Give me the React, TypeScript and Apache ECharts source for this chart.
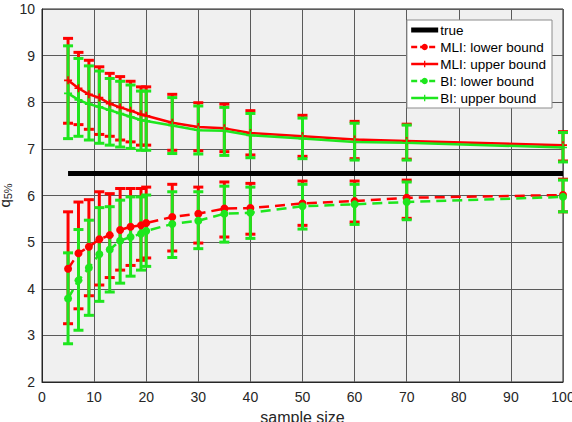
import React, { useEffect, useRef } from "react";
import * as echarts from "echarts";

const sampleSizes = [5, 7, 9, 11, 13, 15, 17, 19, 20, 25, 30, 35, 40, 50, 60, 70, 100];
const trueValue = 6.47;

const mliLower = [4.43, 4.76, 4.9, 5.06, 5.15, 5.26, 5.33, 5.36, 5.41, 5.54, 5.61, 5.72, 5.73, 5.83, 5.88, 5.95, 6.01];
const mliLowerLo = [3.25, 3.57, 3.85, 4.08, 4.24, 4.4, 4.5, 4.61, 4.66, 4.81, 4.98, 5.11, 5.17, 5.36, 5.43, 5.51, 5.65];
const mliLowerHi = [5.65, 5.86, 5.91, 6.08, 6.04, 6.15, 6.15, 6.15, 6.18, 6.24, 6.18, 6.29, 6.26, 6.31, 6.31, 6.33, 6.35];

const mliUpper = [8.47, 8.3, 8.17, 8.1, 7.97, 7.89, 7.82, 7.74, 7.71, 7.56, 7.47, 7.44, 7.34, 7.27, 7.2, 7.17, 7.08];
const mliUpperLo = [7.55, 7.52, 7.42, 7.31, 7.27, 7.19, 7.15, 7.08, 7.08, 6.97, 6.96, 6.94, 6.87, 6.84, 6.79, 6.78, 6.74];
const mliUpperHi = [9.37, 9.07, 8.9, 8.76, 8.62, 8.55, 8.45, 8.33, 8.33, 8.17, 7.99, 7.96, 7.82, 7.72, 7.59, 7.53, 7.37];

const biLower = [3.79, 4.18, 4.45, 4.74, 4.84, 5.03, 5.11, 5.18, 5.24, 5.39, 5.46, 5.61, 5.63, 5.77, 5.81, 5.86, 5.97];
const biLowerLo = [2.82, 3.11, 3.43, 3.73, 3.93, 4.12, 4.27, 4.4, 4.48, 4.67, 4.86, 5.0, 5.08, 5.28, 5.38, 5.48, 5.65];
const biLowerHi = [4.77, 5.27, 5.47, 5.74, 5.76, 5.9, 5.97, 5.97, 6.01, 6.08, 6.08, 6.2, 6.18, 6.24, 6.24, 6.29, 6.33];

const biUpper = [8.19, 8.05, 7.96, 7.9, 7.83, 7.76, 7.69, 7.62, 7.6, 7.5, 7.4, 7.39, 7.29, 7.22, 7.15, 7.13, 7.03];
const biUpperLo = [7.22, 7.27, 7.19, 7.12, 7.08, 7.04, 7.01, 6.97, 6.97, 6.9, 6.89, 6.86, 6.81, 6.79, 6.76, 6.76, 6.72];
const biUpperHi = [9.21, 8.94, 8.78, 8.67, 8.51, 8.45, 8.37, 8.24, 8.24, 8.1, 7.92, 7.89, 7.76, 7.66, 7.55, 7.51, 7.35];

const RED = "#ff0000";
const GREEN = "#1ee61e";
const FONT = "Liberation Sans";
const PLUS = "path://M4,0 L6,0 L6,4 L10,4 L10,6 L6,6 L6,10 L4,10 L4,6 L0,6 L0,4 L4,4 Z";
const BAR_ICON = "path://M0,0 M27,8 M0,1.5 L27,1.5 L27,6.5 L0,6.5 Z";
const DASH: number[] = [10, 6];

function pairs(vals: number[]) {
  return sampleSizes.map((x, i) => [x, vals[i]]);
}

function errorBars(name: string, lo: number[], hi: number[], color: string) {
  return {
    type: "custom",
    name: name + " bars",
    data: sampleSizes.map((x, i) => [x, lo[i], hi[i]]),
    renderItem: (params: any, api: any) => {
      const x = api.value(0);
      const a = api.coord([x, api.value(1)]);
      const b = api.coord([x, api.value(2)]);
      const hw = 5;
      const style = { stroke: color, lineWidth: 3 };
      return {
        type: "group",
        children: [
          { type: "line", shape: { x1: a[0], y1: a[1], x2: b[0], y2: b[1] }, style },
          { type: "line", shape: { x1: a[0] - hw, y1: a[1], x2: a[0] + hw, y2: a[1] }, style },
          { type: "line", shape: { x1: b[0] - hw, y1: b[1], x2: b[0] + hw, y2: b[1] }, style },
        ],
      };
    },
    encode: { x: 0, y: [1, 2] },
    silent: true,
  };
}

function lineSeries(name: string, vals: number[], color: string, dashed: boolean, plus: boolean) {
  return {
    type: "line",
    name,
    data: pairs(vals),
    symbol: plus ? PLUS : "circle",
    symbolSize: 8,
    showSymbol: true,
    itemStyle: { color, borderWidth: 0 },
    lineStyle: { color, width: 2.5, type: dashed ? DASH : "solid" },
    silent: true,
  };
}

export default function App() {
  const ref = useRef<HTMLDivElement>(null);
  useEffect(() => {
    if (!ref.current) return;
    const chart = echarts.init(ref.current, undefined, { renderer: "svg" });
    chart.setOption({
      animation: false,
      backgroundColor: "#ffffff",
      textStyle: { fontFamily: FONT },
      grid: {
        left: 42,
        right: 9,
        top: 9,
        bottom: 40,
        containLabel: false,
        outerBoundsMode: "none",
        show: true,
        backgroundColor: "#f0f0f0",
        borderColor: "#262626",
        borderWidth: 1,
      },
      legend: {
        data: [
          { name: "true", icon: BAR_ICON, itemStyle: { color: "#000" } },
          { name: "MLI: lower bound", lineStyle: { type: [6, 3], width: 2.5, color: RED } },
          { name: "MLI: upper bound", lineStyle: { width: 2.5, color: RED } },
          { name: "BI: lower bound", lineStyle: { type: [6, 3], width: 2.5, color: GREEN } },
          { name: "BI: upper bound", lineStyle: { width: 2.5, color: GREEN } },
        ],
        orient: "vertical",
        right: 20,
        top: 20,
        itemWidth: 27,
        itemHeight: 8,
        itemGap: 3,
        padding: [3, 6, 3, 3],
        backgroundColor: "#ffffff",
        borderColor: "#8c8c8c",
        borderWidth: 1,
        borderRadius: 0,
        textStyle: { fontFamily: FONT, fontSize: 13.5, color: "#000", lineHeight: 14, padding: [0, 0, 0, -3] },
      },
      xAxis: {
        type: "value",
        min: 0,
        max: 100,
        interval: 10,
        name: "sample size",
        nameLocation: "middle",
        nameGap: 27,
        nameMoveOverlap: false,
        nameTextStyle: { fontFamily: FONT, fontSize: 16, color: "#262626" },
        axisLine: { show: true, lineStyle: { color: "#262626" } },
        axisTick: { show: false },
        axisLabel: { fontFamily: FONT, fontSize: 14, color: "#262626", margin: 8 },
        splitLine: { show: true, lineStyle: { color: "#5a5a5a", width: 1 } },
      },
      yAxis: {
        type: "value",
        min: 2,
        max: 10,
        interval: 1,
        name: "{q|q}{s|5%}",
        nameLocation: "middle",
        nameRotate: 90,
        nameGap: 29,
        nameMoveOverlap: false,
        nameTextStyle: {
          fontFamily: FONT,
          color: "#262626",
          rich: {
            q: { fontFamily: FONT, fontSize: 15, color: "#262626", lineHeight: 18, verticalAlign: "middle" },
            s: { fontFamily: FONT, fontSize: 11, color: "#262626", lineHeight: 18, verticalAlign: "bottom" },
          },
        },
        axisLine: { show: true, lineStyle: { color: "#262626" } },
        axisTick: { show: false },
        axisLabel: { fontFamily: FONT, fontSize: 14, color: "#262626", margin: 7 },
        splitLine: { show: true, lineStyle: { color: "#5a5a5a", width: 1 } },
      },
      series: [
        {
          type: "line",
          name: "true",
          data: [
            [sampleSizes[0], trueValue],
            [sampleSizes[sampleSizes.length - 1], trueValue],
          ],
          symbol: "none",
          itemStyle: { color: "#000000" },
          lineStyle: { color: "#000000", width: 5 },
          silent: true,
        },
        lineSeries("MLI: lower bound", mliLower, RED, true, false),
        errorBars("MLI: lower bound", mliLowerLo, mliLowerHi, RED),
        lineSeries("MLI: upper bound", mliUpper, RED, false, true),
        errorBars("MLI: upper bound", mliUpperLo, mliUpperHi, RED),
        lineSeries("BI: lower bound", biLower, GREEN, true, false),
        errorBars("BI: lower bound", biLowerLo, biLowerHi, GREEN),
        lineSeries("BI: upper bound", biUpper, GREEN, false, true),
        errorBars("BI: upper bound", biUpperLo, biUpperHi, GREEN),
      ],
    });
    return () => chart.dispose();
  }, []);
  return (
    <div
      ref={ref}
      style={{ position: "fixed", left: 0, top: 0, width: 572, height: 422, background: "#fff" }}
    />
  );
}
